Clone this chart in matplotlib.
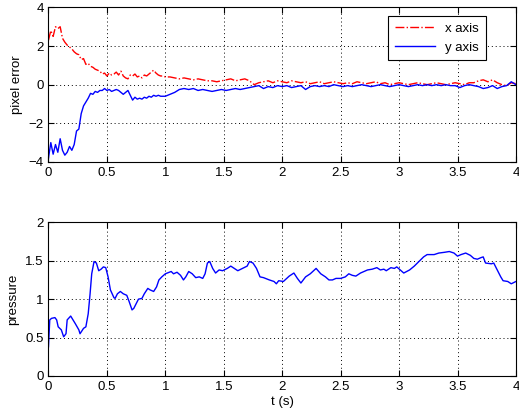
import matplotlib
matplotlib.use("Agg")
import matplotlib.pyplot as plt
import numpy as np

plt.rcParams['font.family'] = ['Liberation Sans', 'DejaVu Sans']

# time grid of the error traces: fine for the first second, coarser after
t_err = np.r_[np.arange(0, 1.0, 0.02), np.arange(1.0, 4.0001, 0.04)]

x_err = [
    2.3, 2.8, 2.5, 3.0, 2.9, 3.0, 2.4, 2.2, 2.05, 1.95,
    1.85, 1.7, 1.6, 1.55, 1.3, 1.35, 1.05, 1.1, 0.95, 0.9,
    0.8, 0.75, 0.7, 0.55, 0.6, 0.45, 0.6, 0.5, 0.55, 0.65,
    0.5, 0.7, 0.45, 0.35, 0.3, 0.5, 0.45, 0.55, 0.4, 0.45,
    0.35, 0.5, 0.45, 0.55, 0.65, 0.75, 0.6, 0.5, 0.45, 0.45,
    # 1.00 - 1.96
    0.4, 0.4, 0.35, 0.3, 0.35, 0.3, 0.25, 0.3, 0.25, 0.2, 0.2, 0.15, 0.2,
    0.25, 0.3, 0.2, 0.25, 0.3, 0.2, 0.0, 0.1, 0.15, 0.2, 0.1, 0.2,
    # 2.00 - 2.96
    0.15, 0.1, 0.2, 0.15, 0.1, 0.15, 0.05, 0.1, 0.15, 0.05, 0.1, 0.15, 0.1,
    0.05, 0.1, 0.05, 0.15, 0.1, 0.05, 0.1, 0.15, 0.05, 0.1, 0.0, 0.05,
    # 3.00 - 4.00
    0.1, 0.05, 0.0, 0.05, 0.1, 0.05, 0.0, 0.05, 0.1, 0.05, 0.0, 0.05, 0.1,
    0.05, 0.0, 0.1, 0.1, 0.2, 0.25, 0.15, 0.25, 0.1, 0.0, -0.05, 0.1,
    0.05,
]

y_err = [
    -3.8, -3.0, -3.6, -3.1, -3.5, -2.8, -3.4, -3.65, -3.5, -3.2,
    -3.4, -3.1, -2.4, -2.3, -1.5, -1.1, -0.9, -0.7, -0.45, -0.5,
    -0.35, -0.4, -0.3, -0.3, -0.2, -0.3, -0.25, -0.35, -0.3, -0.25,
    -0.3, -0.4, -0.5, -0.4, -0.3, -0.55, -0.8, -0.65, -0.75, -0.7,
    -0.75, -0.65, -0.7, -0.6, -0.65, -0.55, -0.6, -0.55, -0.6, -0.6,
    # 1.00 - 1.96
    -0.6, -0.5, -0.4, -0.25, -0.2, -0.25, -0.2, -0.3, -0.25, -0.3, -0.35, -0.3, -0.25,
    -0.3, -0.25, -0.2, -0.25, -0.2, -0.15, -0.1, -0.05, -0.2, -0.1, -0.15, -0.05,
    # 2.00 - 2.96
    -0.1, -0.05, -0.15, -0.1, -0.05, -0.25, -0.1, -0.05, -0.1, -0.05, -0.1, 0.0, -0.05,
    -0.1, -0.05, -0.1, -0.05, 0.0, -0.05, -0.1, -0.05, 0.0, -0.05, -0.1, -0.05,
    # 3.00 - 4.00
    0.0, -0.05, -0.1, -0.05, 0.0, -0.05, 0.0, -0.05, 0.0, -0.05, 0.0, -0.05, -0.05,
    -0.15, -0.05, 0.0, -0.05, -0.1, -0.2, -0.15, -0.05, -0.2, -0.1, -0.05, 0.15,
    0.0,
]

# pressure trace (time, value)
t_pres = [
    0.0, 0.011, 0.026, 0.055, 0.07, 0.083, 0.11, 0.13, 0.15, 0.16,
    0.19, 0.23, 0.26, 0.27, 0.30, 0.32, 0.34, 0.356, 0.37, 0.39,
    0.41, 0.43, 0.45, 0.47, 0.49, 0.51, 0.53, 0.56, 0.57, 0.59,
    0.615, 0.64, 0.67, 0.69, 0.715, 0.73, 0.75, 0.77, 0.80, 0.82,
    0.85, 0.87, 0.90, 0.925, 0.945, 0.97, 1.0, 1.05, 1.07, 1.10,
    1.13, 1.155, 1.175, 1.20, 1.23, 1.26, 1.29, 1.32, 1.34, 1.36,
    1.38, 1.405, 1.43, 1.46, 1.49, 1.53, 1.56, 1.59, 1.62, 1.66,
    1.70, 1.72, 1.75, 1.78, 1.81, 1.84, 1.89, 1.93, 1.95, 1.97,
    2.01, 2.06, 2.10, 2.13, 2.16, 2.20, 2.24, 2.29, 2.33, 2.37,
    2.40, 2.43, 2.46, 2.50, 2.54, 2.57, 2.60, 2.63, 2.67, 2.73,
    2.77, 2.81, 2.84, 2.87, 2.89, 2.93, 2.96, 2.98, 3.01, 3.04,
    3.09, 3.13, 3.17, 3.21, 3.24, 3.30, 3.34, 3.39, 3.43, 3.47,
    3.50, 3.53, 3.57, 3.61, 3.64, 3.67, 3.70, 3.72, 3.74, 3.79,
    3.81, 3.84, 3.87, 3.89, 3.93, 3.96, 4.0,
]
pressure = [
    0.38, 0.73, 0.75, 0.76, 0.73, 0.64, 0.60, 0.51, 0.55, 0.73,
    0.78, 0.68, 0.60, 0.55, 0.62, 0.64, 0.81, 1.07, 1.33, 1.49,
    1.47, 1.37, 1.39, 1.42, 1.41, 1.29, 1.12, 1.02, 1.01, 1.07,
    1.10, 1.07, 1.05, 0.97, 0.86, 0.88, 0.94, 1.00, 1.01, 1.07,
    1.14, 1.12, 1.10, 1.16, 1.25, 1.29, 1.33, 1.36, 1.33, 1.35,
    1.31, 1.25, 1.29, 1.36, 1.33, 1.28, 1.29, 1.27, 1.33, 1.47,
    1.49, 1.40, 1.34, 1.38, 1.37, 1.40, 1.43, 1.40, 1.37, 1.40,
    1.43, 1.49, 1.47, 1.40, 1.29, 1.28, 1.25, 1.23, 1.20, 1.24,
    1.23, 1.30, 1.34, 1.27, 1.21, 1.29, 1.33, 1.40, 1.33, 1.29,
    1.25, 1.25, 1.27, 1.27, 1.29, 1.33, 1.31, 1.30, 1.34, 1.38,
    1.39, 1.41, 1.38, 1.39, 1.37, 1.41, 1.40, 1.42, 1.38, 1.34,
    1.38, 1.43, 1.49, 1.55, 1.58, 1.58, 1.60, 1.61, 1.62, 1.60,
    1.56, 1.58, 1.60, 1.57, 1.53, 1.52, 1.54, 1.55, 1.47, 1.46,
    1.47, 1.38, 1.29, 1.24, 1.23, 1.20, 1.23,
]

fig = plt.figure(figsize=(5.19, 4.12), dpi=100)
ax1 = fig.add_axes([0.0934, 0.607, 0.9007, 0.375])
ax2 = fig.add_axes([0.0934, 0.0874, 0.9007, 0.373])

ax1.plot(t_err, x_err, '-.', color='red', lw=1.0, label='x axis')
ax1.plot(t_err, y_err, '-', color='blue', lw=1.0, label='y axis')
ax1.set_xlim(0, 4)
ax1.set_ylim(-4, 4)
ax1.set_yticks([-4, -2, 0, 2, 4])
ax1.set_ylabel('pixel error', fontsize=9.5)
leg = ax1.legend(loc='upper right', bbox_to_anchor=(0.935, 0.945), borderaxespad=0,
                 fancybox=False, edgecolor='black', framealpha=1, fontsize=9.5,
                 handlelength=3.0, borderpad=0.5)
leg.get_frame().set_linewidth(0.8)

ax2.plot(t_pres, pressure, '-', color='blue', lw=1.0)
ax2.set_xlim(0, 4)
ax2.set_ylim(0, 2)
ax2.set_yticks([0, 0.5, 1, 1.5, 2])
ax2.set_yticklabels(['0', '0.5', '1', '1.5', '2'])
ax2.set_ylabel('pressure', fontsize=9.5)
ax2.set_xlabel('t (s)', fontsize=9.5, labelpad=2)

for ax in (ax1, ax2):
    ax.set_xticks([0, 0.5, 1, 1.5, 2, 2.5, 3, 3.5, 4])
    ax.set_xticklabels(['0', '0.5', '1', '1.5', '2', '2.5', '3', '3.5', '4'])
    ax.grid(True, linestyle=(0, (1, 3)), color='black', linewidth=0.7)
    ax.tick_params(direction='in', top=True, right=True, labelsize=9.5, length=4)
    for s in ax.spines.values():
        s.set_linewidth(0.8)

fig.savefig('out.png', dpi=100)
